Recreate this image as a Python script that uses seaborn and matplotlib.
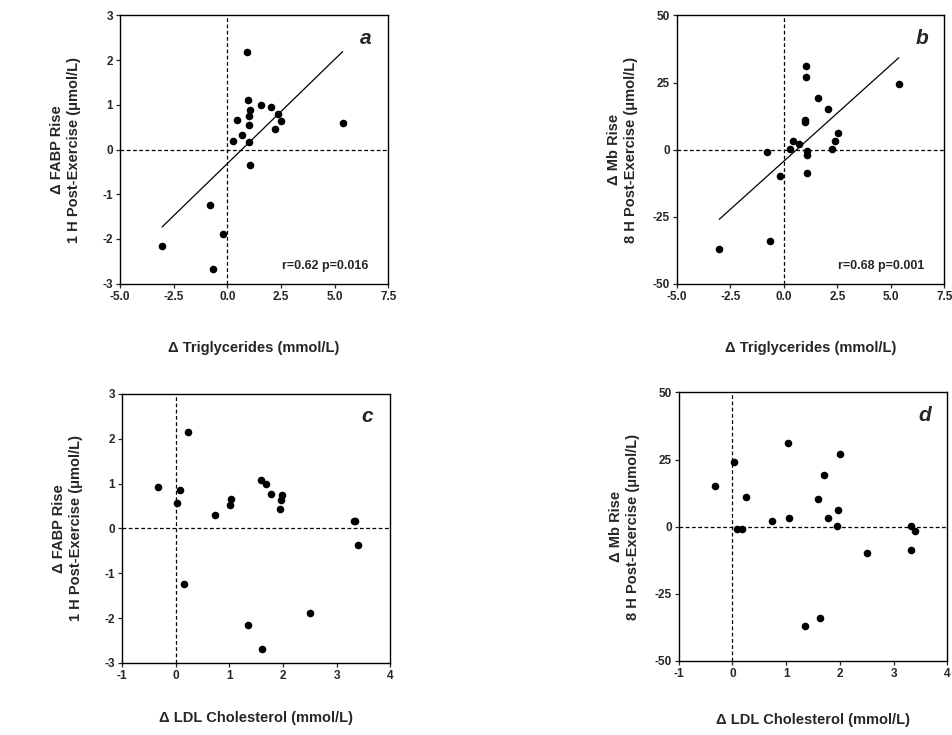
import numpy as np
import pandas as pd
import matplotlib
matplotlib.use("Agg")
import matplotlib.pyplot as plt
import seaborn as sns

# 資料
tg_fabp_x = [0.92, 0.97, 1.59, 2.04, 1.04, 1.01, 0.45, 2.38, 2.49, 1.03,
             0.69, 2.21, 5.37, 0.28, 1.03, 1.04, -0.81, -0.19, -3.04, -0.69]
tg_fabp_y = [2.19, 1.10, 1.00, 0.95, 0.89, 0.76, 0.67, 0.79, 0.65, 0.54,
             0.33, 0.46, 0.59, 0.19, 0.16, -0.35, -1.23, -1.88, -2.16, -2.68]

tg_mb_x = [1.05, 1.03, 5.37, 1.61, 2.08, 0.97, 1.00, 2.52, 2.39, 0.44,
           0.72, 0.30, 2.25, -0.78, 1.08, 1.09, 1.06, -0.19, -0.66, -3.02]
tg_mb_y = [31.1, 27.1, 24.3, 19.1, 15.2, 11.2, 10.2, 6.2, 3.1, 3.2,
           2.2, 0.1, 0.1, -1.0, -0.7, -2.1, -8.9, -9.9, -33.9, -37.1]

ldl_fabp_x = [0.24, -0.33, 0.09, 0.02, 1.59, 1.69, 1.77, 1.98, 1.96, 1.95,
              1.03, 1.02, 0.73, 3.32, 3.34, 3.40, 0.16, 2.51, 1.35, 1.61]
ldl_fabp_y = [2.16, 0.92, 0.86, 0.56, 1.08, 0.99, 0.76, 0.74, 0.64, 0.44,
              0.66, 0.52, 0.31, 0.16, 0.17, -0.36, -1.24, -1.89, -2.16, -2.69]

ldl_mb_x = [1.03, 2.00, 0.02, 1.70, -0.33, 0.25, 1.60, 1.97, 1.78, 1.05,
            0.74, 1.95, 3.33, 0.08, 0.17, 3.40, 3.32, 2.51, 1.63, 1.36]
ldl_mb_y = [31.1, 27.2, 24.0, 19.1, 15.0, 11.1, 10.2, 6.3, 3.2, 3.2,
            2.1, 0.2, 0.2, -0.9, -0.9, -1.6, -8.8, -9.7, -33.9, -37.0]

tg_ticks = [-5.0, -2.5, 0.0, 2.5, 5.0, 7.5]
ldl_ticks = [-1, 0, 1, 2, 3, 4]
fabp_ticks = [-3, -2, -1, 0, 1, 2, 3]
mb_ticks = [-50, -25, 0, 25, 50]

xlab_tg = "Δ Triglycerides (mmol/L)"
xlab_ldl = "Δ LDL Cholesterol (mmol/L)"
ylab_fabp = "Δ FABP Rise\n1 H Post-Exercise (μmol/L)"
ylab_mb = "Δ Mb Rise\n8 H Post-Exercise (μmol/L)"

sns.set_style("ticks")
plt.rcParams['font.family'] = ['Liberation Sans', 'DejaVu Sans']
plt.rcParams['font.weight'] = 'bold'
plt.rcParams['axes.unicode_minus'] = False

fig = plt.figure(figsize=(9.52, 7.35), dpi=100)

panels = [
    # x, y, rect, xticks, yticks, xlabel, ylabel, letter, stats, fit, xlab_y
    (tg_fabp_x, tg_fabp_y, [0.126, 0.614, 0.282, 0.365], tg_ticks, fabp_ticks,
     xlab_tg, ylab_fabp, "a", "r=0.62 p=0.016", True, -0.215),
    (tg_mb_x, tg_mb_y, [0.711, 0.614, 0.281, 0.365], tg_ticks, mb_ticks,
     xlab_tg, ylab_mb, "b", "r=0.68 p=0.001", True, -0.215),
    (ldl_fabp_x, ldl_fabp_y, [0.128, 0.098, 0.282, 0.366], ldl_ticks, fabp_ticks,
     xlab_ldl, ylab_fabp, "c", None, False, -0.18),
    (ldl_mb_x, ldl_mb_y, [0.713, 0.101, 0.282, 0.365], ldl_ticks, mb_ticks,
     xlab_ldl, ylab_mb, "d", None, False, -0.195),
]

for x, y, rect, xt, yt, xl, yl, letter, stats, fit, xly in panels:
    ax = fig.add_axes(rect)
    df = pd.DataFrame({"x": x, "y": y})

    # 零點虛線
    ax.axhline(0, color="black", lw=0.9, ls=(0, (3, 2)), zorder=1)
    ax.axvline(0, color="black", lw=0.9, ls=(0, (3, 2)), zorder=1)

    sns.scatterplot(data=df, x="x", y="y", ax=ax, color="black", s=30,
                    edgecolor="black", linewidth=0, zorder=3)
    if fit:
        sns.regplot(data=df, x="x", y="y", ax=ax, scatter=False, ci=None,
                    truncate=True, line_kws={"color": "black", "lw": 0.9})

    ax.set_xlim(xt[0], xt[-1])
    ax.set_ylim(yt[0], yt[-1])
    ax.set_xticks(xt)
    ax.set_yticks(yt)
    if isinstance(xt[0], float):
        ax.set_xticklabels([f"{v:.1f}" for v in xt])
    ax.tick_params(direction="out", length=3, width=0.9, labelsize=8.5, pad=2)
    for lab in ax.get_xticklabels() + ax.get_yticklabels():
        lab.set_fontweight("bold")
    for sp in ax.spines.values():
        sp.set_linewidth(1.0)
        sp.set_color("black")

    ax.set_xlabel(xl, fontsize=10.5, fontweight="bold")
    ax.set_ylabel(yl, fontsize=10.5, fontweight="bold", linespacing=1.3)
    ax.xaxis.set_label_coords(0.5, xly)
    ax.yaxis.set_label_coords(-0.145, 0.5)

    ax.text(0.915, 0.915, letter, transform=ax.transAxes, fontsize=15,
            fontweight="bold", style="italic", ha="center", va="center")
    if stats:
        ax.text(0.765, 0.065, stats, transform=ax.transAxes, fontsize=9,
                fontweight="bold", ha="center", va="center")

plt.savefig("out.png", dpi=100)
plt.close()
